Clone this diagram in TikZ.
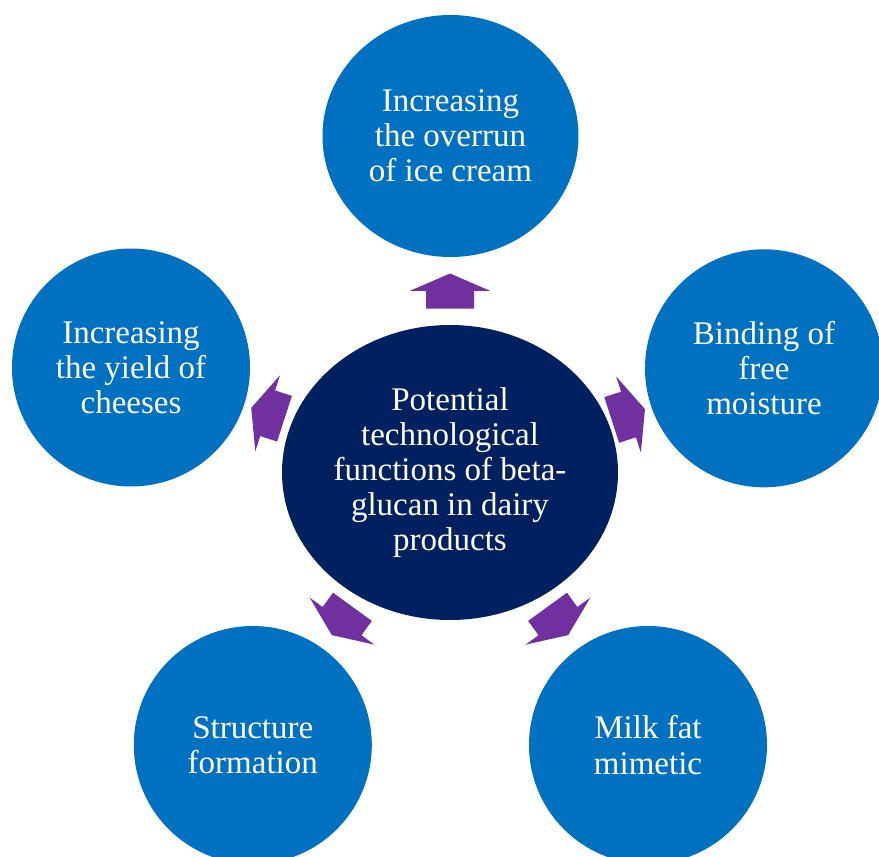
\documentclass[tikz,border=0pt]{standalone}
\usepackage{fontspec}
\setmainfont{Liberation Serif}
\usetikzlibrary{shapes.geometric, calc}

\definecolor{outerblue}{HTML}{0070C0}
\definecolor{corenavy}{HTML}{002060}
\definecolor{arrowpurple}{HTML}{7030A0}

\begin{document}
\begin{tikzpicture}[
        x=0.5pt, y=-0.5pt,
        font=\fontsize{16.5pt}{17.6pt}\selectfont,
        bubble/.style={
          ellipse,
          fill=outerblue,
          text=white,
          align=center,
          inner sep=0pt,
          minimum width=119pt,
          minimum height=119pt
        },
        core/.style={
          bubble,
          fill=corenavy,
          minimum width=168pt,
          minimum height=147.5pt
        },
        flowarrow/.style={
          fill=arrowpurple,
          draw=none
        }
      ]
      \useasboundingbox (0,0) rectangle (879,857);
      \clip (0,0) rectangle (879,857);

      \node[core] (center) at (450,472.5) {Potential\\technological\\functions of beta-\\glucan in dairy\\products};

      \node[bubble, minimum width=128pt, minimum height=121pt] (overrun) at (450.5,136) {Increasing\\the overrun\\of ice cream};
      \node[bubble] (yield) at (131,367.5) {Increasing\\the yield of\\cheeses};
      \node[bubble] (moisture) at (764,368.3) {Binding of\\free\\moisture};
      \node[bubble] (structure) at (252.8,745) {Structure\\formation};
      \node[bubble] (mimetic) at (648,745) {Milk fat\\mimetic};

      % block arrows pointing out of the centre
      \foreach \ang/\dist in {90/82, 162/87, 18/85, 234/83, 306/83}
        \fill[flowarrow, shift={($(center)+(\ang:\dist pt)$)}, rotate=\ang]
          (0pt,-12pt) -- (8.85pt,-12pt) -- (8.85pt,-20pt) -- (17.5pt,0pt)
          -- (8.85pt,20pt) -- (8.85pt,12pt) -- (0pt,12pt) -- cycle;
    \end{tikzpicture}
\end{document}
